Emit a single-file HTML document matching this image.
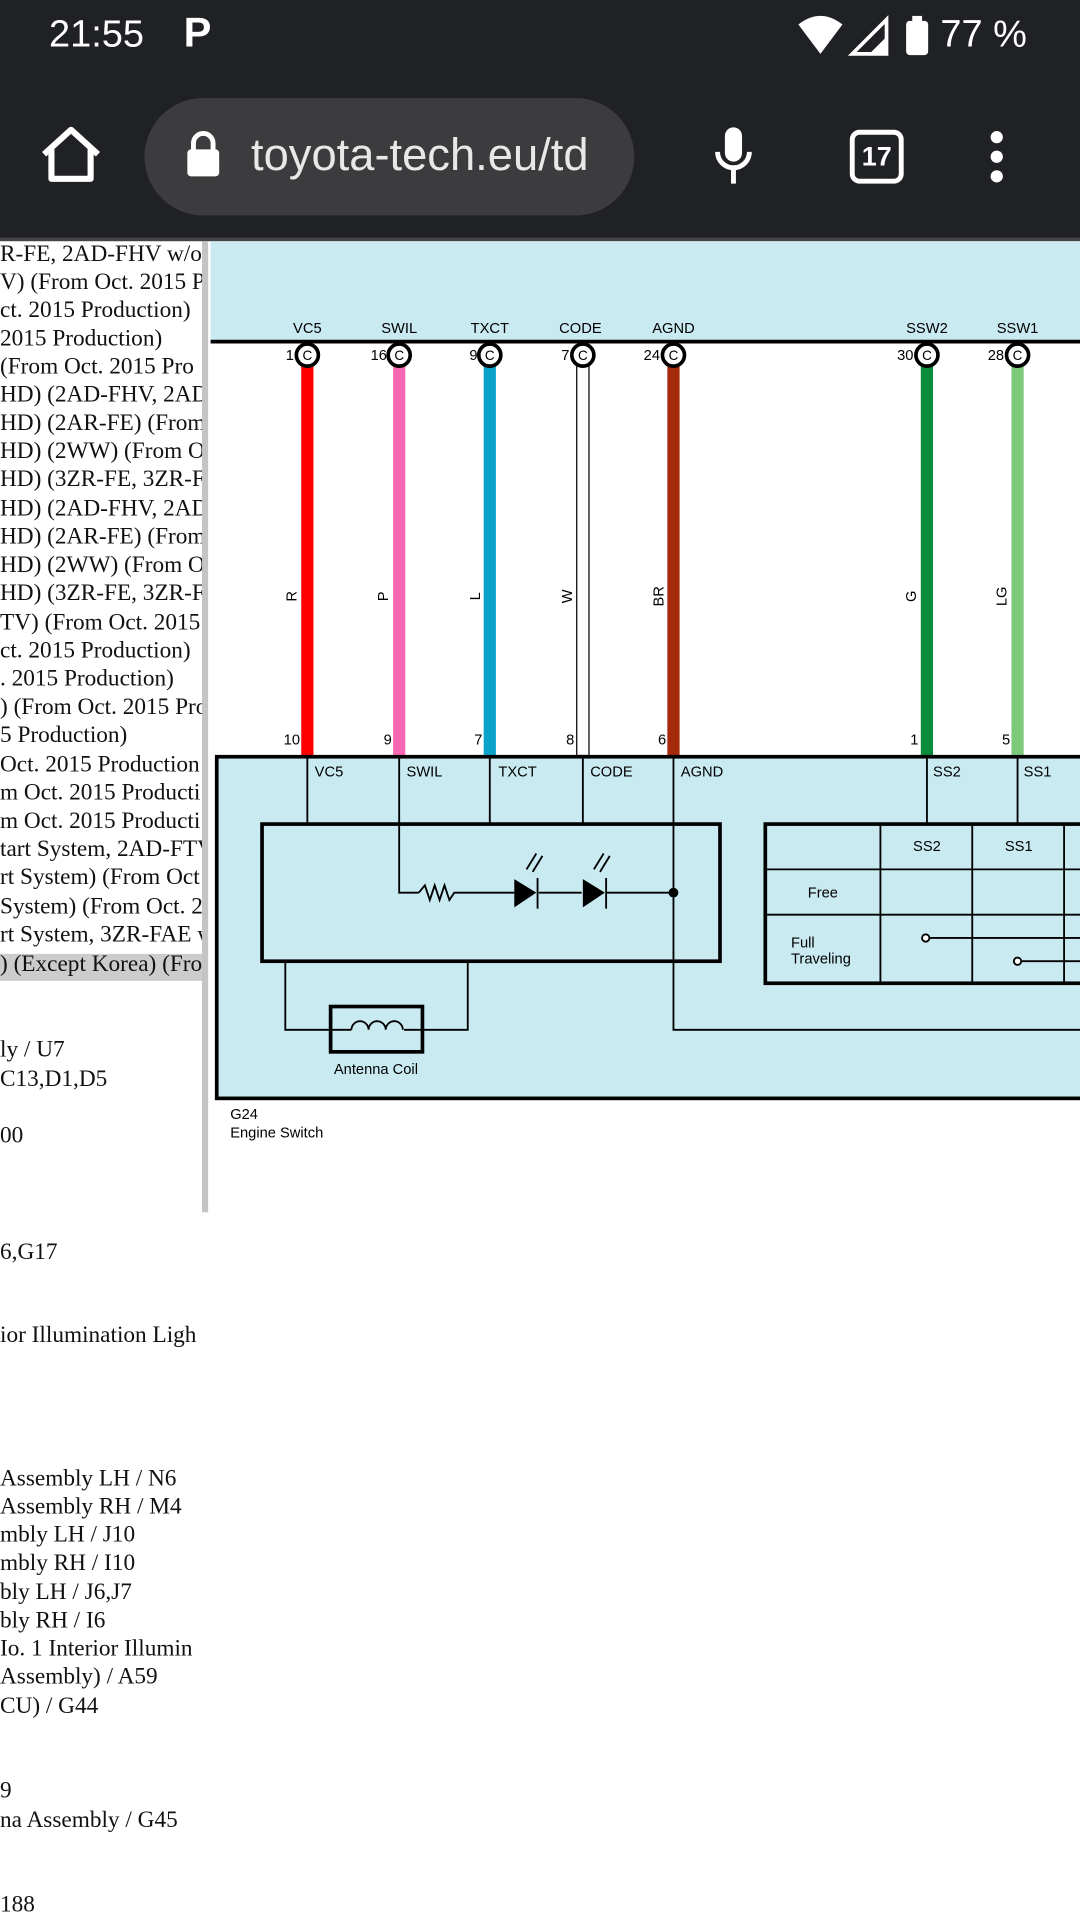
<!DOCTYPE html>
<html><head><meta charset="utf-8"><style>
html,body{margin:0;padding:0;width:1080px;height:1920px;overflow:hidden;background:#fff}
#w{position:absolute;left:0;top:0;width:882px;height:1568px;transform:scale(1.22449);transform-origin:0 0;font-family:"Liberation Sans",sans-serif}
.l{position:absolute;left:0;font-family:"Liberation Serif",serif;font-size:19px;white-space:nowrap;color:#111}
</style></head><body><div id="w">
<div style="position:absolute;left:0;top:0;width:882px;height:196px;background:#202124"></div>
<div style="position:absolute;left:40px;top:10px;color:#fff;font-size:31px;font-weight:500">21:55</div>
<div style="position:absolute;left:150px;top:8px;color:#fff;font-size:34px;font-weight:bold">P</div>
<svg style="position:absolute;left:650px;top:12px" width="230" height="36">
<path d="M2 8 Q20 -6 38 8 L20 32Z" fill="#fff"/><path d="M46 32 L74 4 L74 32Z" fill="none" stroke="#fff" stroke-width="3"/><path d="M60 32 L74 18 L74 32Z" fill="#fff"/>
<rect x="90" y="5" width="18" height="28" rx="3" fill="#fff"/><rect x="95" y="1" width="8" height="5" fill="#fff"/></svg>
<div style="position:absolute;left:768px;top:10px;color:#fff;font-size:31px">77 %</div>
<svg style="position:absolute;left:30px;top:100px" width="60" height="52"><path d="M6 26 L28 6 L50 26 M12 22 V46 H44 V22" fill="none" stroke="#fff" stroke-width="5" stroke-linejoin="round"/></svg>
<div style="position:absolute;left:118px;top:80px;width:400px;height:96px;border-radius:48px;background:#3c3c3f"></div>
<svg style="position:absolute;left:150px;top:106px" width="34" height="40"><rect x="3" y="16" width="26" height="22" rx="3" fill="#fff"/><path d="M8 17 V11 A8 8 0 0 1 24 11 V17" fill="none" stroke="#fff" stroke-width="4"/></svg>
<div style="position:absolute;left:205px;top:106px;width:296px;overflow:hidden;white-space:nowrap;color:#e8e8e8;font-size:37px">toyota-tech.eu/td</div>
<svg style="position:absolute;left:580px;top:100px" width="40" height="56"><rect x="12" y="4" width="14" height="28" rx="7" fill="#fff"/><path d="M6 24 A13 13 0 0 0 32 24 M19 37 V50" fill="none" stroke="#fff" stroke-width="4"/></svg>
<div style="position:absolute;left:694px;top:106px;width:36px;height:36px;border:4px solid #fff;border-radius:8px;color:#fff;font-size:22px;font-weight:bold;text-align:center;line-height:36px">17</div>
<svg style="position:absolute;left:802px;top:104px" width="24" height="48"><circle cx="12" cy="8" r="5" fill="#fff"/><circle cx="12" cy="24" r="5" fill="#fff"/><circle cx="12" cy="40" r="5" fill="#fff"/></svg>
<div style="position:absolute;left:0;top:194px;width:882px;height:3px;background:#444"></div>
<div style="position:absolute;left:0;top:197px;width:167px;height:800px;overflow:hidden">
<div style="position:absolute;left:0;top:582px;width:167px;height:22px;background:#ccc"></div>
<div class="l" style="top:0">R-FE, 2AD-FHV w/o T</div>
<div class="l" style="top:23px">V) (From Oct. 2015 P</div>
<div class="l" style="top:46px">ct. 2015 Production)</div>
<div class="l" style="top:69px"> 2015 Production)</div>
<div class="l" style="top:92px"> (From Oct. 2015 Pro</div>
<div class="l" style="top:115px">HD) (2AD-FHV, 2AD-I</div>
<div class="l" style="top:138px">HD) (2AR-FE) (From</div>
<div class="l" style="top:161px">HD) (2WW) (From O</div>
<div class="l" style="top:184px">HD) (3ZR-FE, 3ZR-FA</div>
<div class="l" style="top:208px">HD) (2AD-FHV, 2AD-I</div>
<div class="l" style="top:231px">HD) (2AR-FE) (From</div>
<div class="l" style="top:254px">HD) (2WW) (From O</div>
<div class="l" style="top:277px">HD) (3ZR-FE, 3ZR-FA</div>
<div class="l" style="top:301px">TV) (From Oct. 2015 F</div>
<div class="l" style="top:324px">ct. 2015 Production)</div>
<div class="l" style="top:347px">. 2015 Production)</div>
<div class="l" style="top:370px">) (From Oct. 2015 Pro</div>
<div class="l" style="top:393px">5 Production)</div>
<div class="l" style="top:417px"> Oct. 2015 Production</div>
<div class="l" style="top:440px">m Oct. 2015 Producti</div>
<div class="l" style="top:463px">m Oct. 2015 Producti</div>
<div class="l" style="top:486px">tart System, 2AD-FTV</div>
<div class="l" style="top:509px">rt System) (From Oct</div>
<div class="l" style="top:533px"> System) (From Oct. 2</div>
<div class="l" style="top:556px">rt System, 3ZR-FAE w</div>
<div class="l" style="top:580px">) (Except Korea) (Fro</div>
<div class="l" style="top:650px">ly / U7</div>
<div class="l" style="top:674px">C13,D1,D5</div>
<div class="l" style="top:720px">00</div>
</div>
<div style="position:absolute;left:165px;top:197px;width:5px;height:793px;background:#c4c4c4"></div>
<div class="l" style="top:1012px">6,G17</div>
<div class="l" style="top:1080px">ior Illumination Ligh</div>
<div class="l" style="top:1197px"> Assembly LH / N6</div>
<div class="l" style="top:1220px"> Assembly RH / M4</div>
<div class="l" style="top:1243px">mbly LH / J10</div>
<div class="l" style="top:1266px">mbly RH / I10</div>
<div class="l" style="top:1290px">bly LH / J6,J7</div>
<div class="l" style="top:1313px">bly RH / I6</div>
<div class="l" style="top:1336px">Io. 1 Interior Illumin</div>
<div class="l" style="top:1359px"> Assembly) / A59</div>
<div class="l" style="top:1383px">CU) / G44</div>
<div class="l" style="top:1452px">9</div>
<div class="l" style="top:1476px">na Assembly / G45</div>
<div class="l" style="top:1545px">188</div>
<svg style="position:absolute;left:170px;top:197px" width="712" height="800" font-family="Liberation Sans, sans-serif" font-size="12">
<rect x="2" y="0" width="710" height="82" fill="#c9eaf1"/>
<line x1="2" y1="82" x2="712" y2="82" stroke="#000" stroke-width="3"/>
<g text-anchor="middle"><text x="81" y="75">VC5</text><text x="156" y="75">SWIL</text><text x="230" y="75">TXCT</text><text x="304" y="75">CODE</text><text x="380" y="75">AGND</text><text x="587" y="75">SSW2</text><text x="661" y="75">SSW1</text></g>
<rect x="76" y="102" width="10" height="318" fill="#f00"/>
<rect x="151" y="102" width="10" height="318" fill="#f768b2"/>
<rect x="225" y="102" width="10" height="318" fill="#0aa2c8"/>
<rect x="301" y="102" width="10" height="318" fill="#fff" stroke="#000" stroke-width="1"/>
<rect x="375" y="102" width="10" height="318" fill="#a52a0a"/>
<rect x="582" y="102" width="10" height="318" fill="#0a8c3a"/>
<rect x="656" y="102" width="10" height="318" fill="#7dcb7a"/>
<g font-size="12"><text transform="translate(72,290) rotate(-90)" text-anchor="middle">R</text><text transform="translate(147,290) rotate(-90)" text-anchor="middle">P</text><text transform="translate(222,290) rotate(-90)" text-anchor="middle">L</text><text transform="translate(297,290) rotate(-90)" text-anchor="middle">W</text><text transform="translate(372,290) rotate(-90)" text-anchor="middle">BR</text><text transform="translate(578,290) rotate(-90)" text-anchor="middle">G</text><text transform="translate(652,290) rotate(-90)" text-anchor="middle">LG</text></g>
<g fill="#fff" stroke="#000" stroke-width="3"><circle cx="81" cy="93" r="9"/><circle cx="156" cy="93" r="9"/><circle cx="230" cy="93" r="9"/><circle cx="306" cy="93" r="9"/><circle cx="380" cy="93" r="9"/><circle cx="587" cy="93" r="9"/><circle cx="661" cy="93" r="9"/></g>
<g text-anchor="middle" font-size="11"><text x="81" y="97">C</text><text x="156" y="97">C</text><text x="230" y="97">C</text><text x="306" y="97">C</text><text x="380" y="97">C</text><text x="587" y="97">C</text><text x="661" y="97">C</text></g>
<g text-anchor="end"><text x="70" y="97">1</text><text x="146" y="97">16</text><text x="220" y="97">9</text><text x="295" y="97">7</text><text x="369" y="97">24</text><text x="576" y="97">30</text><text x="650" y="97">28</text>
<text x="75" y="411">10</text><text x="150" y="411">9</text><text x="224" y="411">7</text><text x="299" y="411">8</text><text x="374" y="411">6</text><text x="580" y="411">1</text><text x="655" y="411">5</text></g>
<rect x="7" y="421" width="710" height="279" fill="#c9eaf1" stroke="#000" stroke-width="3"/>
<g stroke="#000" stroke-width="1.5" fill="none">
<path d="M81 421V476M156 421V532H172M230 421V476M306 421V476M380 421V644H712M587 421V476M661 421V476"/>
<path d="M172 532 L177 526 L181 538 L185 526 L189 538 L193 526 L197 538 L201 532 H250 M270 532 H305 M325 532 H380"/>
<path d="M63 589V644H100M176 644H212V589"/>
<path d="M586 569H712M661 588H712"/>
<path d="M549 476V607M624 476V607M699 476V607"/>
<path d="M455 513H712M455 550H712"/>
</g>
<rect x="44" y="476" width="374" height="112" fill="none" stroke="#000" stroke-width="3"/>
<rect x="455" y="476" width="260" height="130" fill="none" stroke="#000" stroke-width="3"/>
<rect x="100" y="625" width="75" height="37" fill="none" stroke="#000" stroke-width="3"/>
<path d="M100 644H117 M160 644H176 M117 644 a7 7 0 0 1 14 0 a7 7 0 0 1 14 0 a7 7 0 0 1 14 0" fill="none" stroke="#000" stroke-width="1.5"/>
<path d="M250 521 L268 532 L250 544Z M306 521 L324 532 L306 544Z" fill="#000"/>
<path d="M269 520V545M325 520V545" stroke="#000" stroke-width="1.5"/>
<path d="M260 513 L268 500 M265 515 L273 502 M315 513 L323 500 M320 515 L328 502" stroke="#000" stroke-width="1.5"/>
<circle cx="380" cy="532" r="4" fill="#000"/>
<circle cx="586" cy="569" r="3" fill="#fff" stroke="#000" stroke-width="1.5"/>
<circle cx="661" cy="588" r="3" fill="#fff" stroke="#000" stroke-width="1.5"/>
<text x="87" y="437">VC5</text><text x="162" y="437">SWIL</text><text x="237" y="437">TXCT</text><text x="312" y="437">CODE</text><text x="386" y="437">AGND</text><text x="592" y="437">SS2</text><text x="666" y="437">SS1</text>
<text x="587" y="498" text-anchor="middle">SS2</text><text x="662" y="498" text-anchor="middle">SS1</text>
<text x="502" y="536" text-anchor="middle">Free</text><text x="476" y="577">Full</text><text x="476" y="590">Traveling</text>
<text x="137" y="680" text-anchor="middle">Antenna Coil</text>
<text x="18" y="717">G24</text><text x="18" y="732">Engine Switch</text>
</svg>
</div></body></html>
